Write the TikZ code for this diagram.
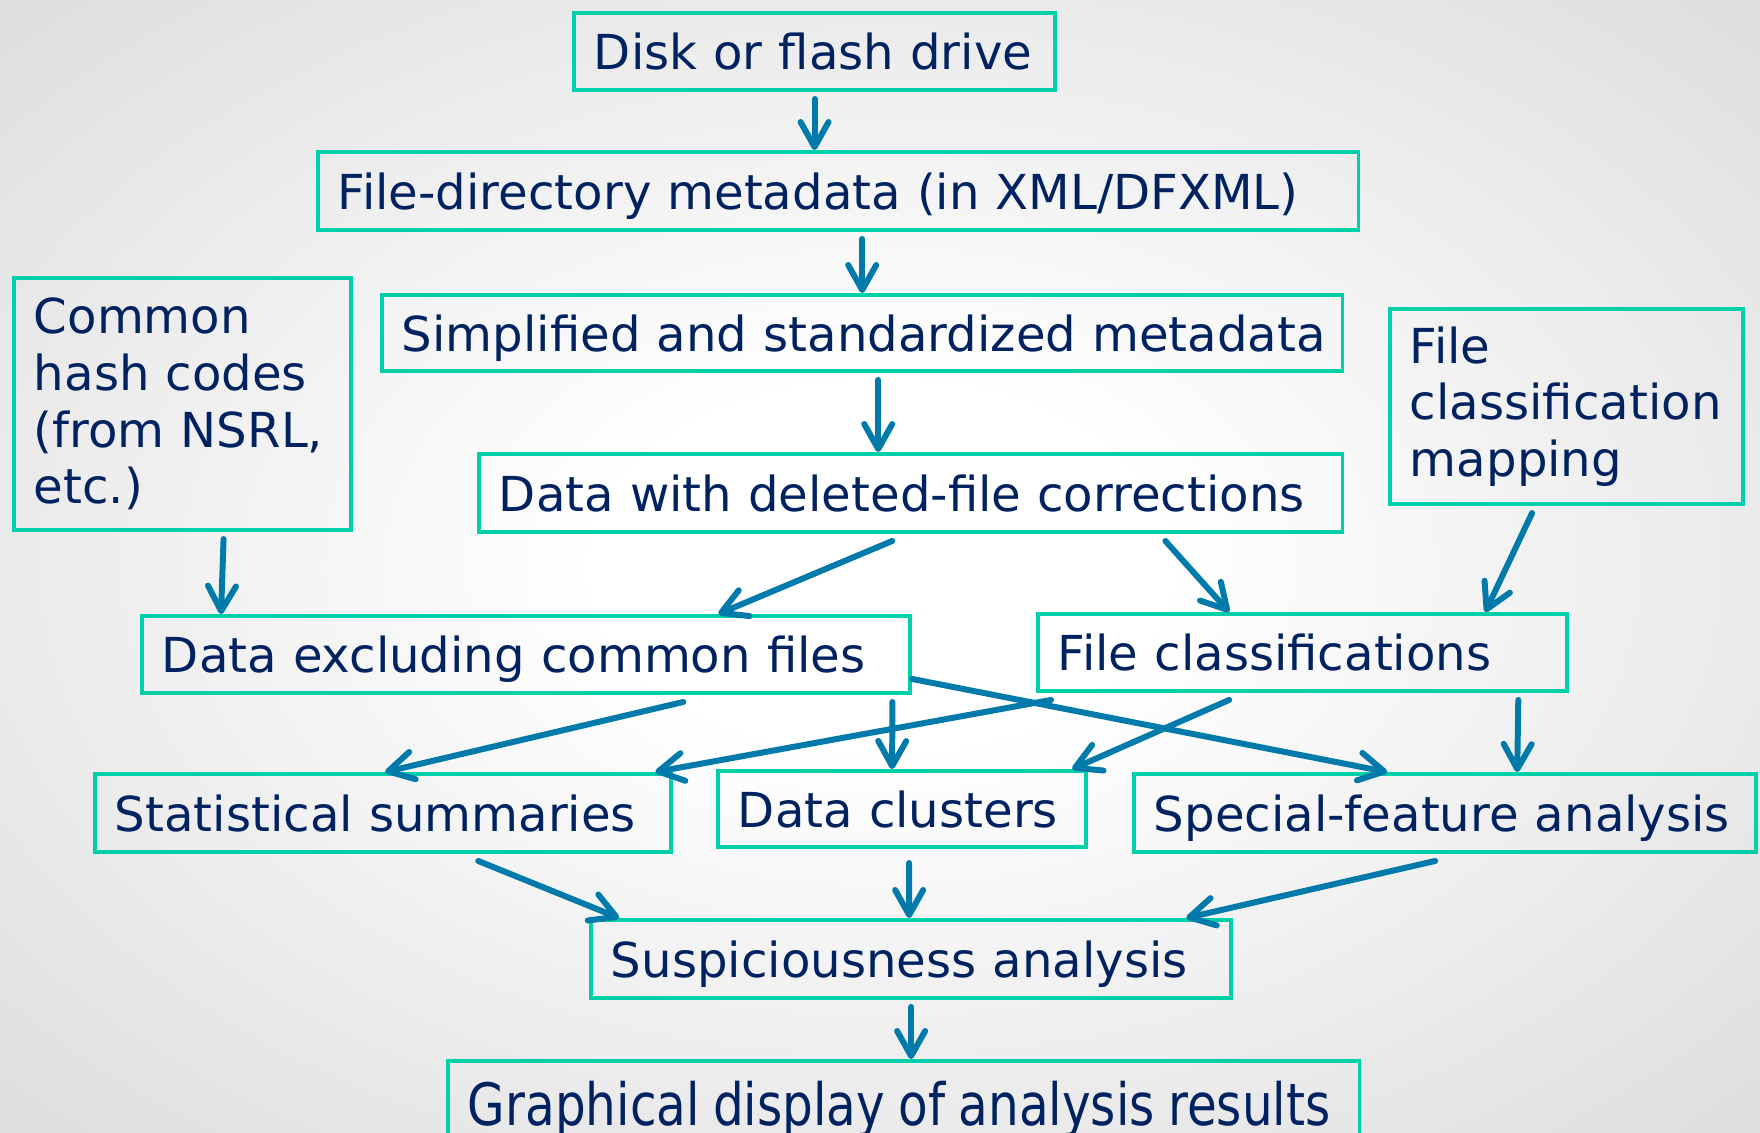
\documentclass[tikz,border=0pt]{standalone}
\usepackage{fontspec}
\setmainfont{DejaVu Sans}
\usepackage{xcolor}
\usepackage{tikz}
\usetikzlibrary{arrows.meta}
\definecolor{boxline}{RGB}{0,208,170}
\definecolor{flowblue}{RGB}{0,122,170}
\definecolor{navytext}{RGB}{0,34,96}
\definecolor{bggray}{RGB}{178,178,178}
\pgfdeclareradialshading{bgglow}{\pgfpoint{0bp}{0bp}}{color(0bp)=(white); color(8bp)=(white); color(71bp)=(bggray)}

\begin{document}
\begin{tikzpicture}[x=0.01cm,y=-0.01cm,
    box/.style={draw=boxline, line width=1.1pt, anchor=north west, align=left,
      inner xsep=0.2cm, inner ysep=0pt, text=navytext,
      font=\fontsize{13.7}{16.1}\selectfont},
    single/.style={box, text depth=0pt},
    arr/.style={draw=flowblue, line width=1.7pt, line cap=round,
      -{Straight Barb[length=0.25cm,width=0.28cm,line width=1.7pt,round]}}]
						\useasboundingbox (0,0) rectangle (1760,1132);
						\clip (0,0) rectangle (1760,1132);
						\shade[shading=bgglow] (0,0) rectangle (1760,1132);
						
						\node[single, text width=4.41cm, minimum height=0.77cm] (disk) at (572,11) {Disk or flash drive};
						\node[single, text width=10.00cm, minimum height=0.78cm] (fdir) at (316,150) {\mbox{File-directory metadata (in XML/DFXML)}};
						\node[single, text width=9.20cm, minimum height=0.76cm] (simp) at (380,293) {\mbox{Simplified and standardized metadata}};
						\node[box, text width=2.97cm, minimum height=2.52cm] (hash) at (12,276) {Common\\hash codes\\(from NSRL,\\etc.)};
						\node[box, text width=3.13cm, minimum height=1.95cm] (map) at (1388,307) {File\\classification\\mapping};
						\node[single, text width=8.23cm, minimum height=0.78cm] (dele) at (477,452) {Data with deleted-file corrections};
						\node[single, text width=7.28cm, minimum height=0.77cm] (excl) at (140,614) {Data excluding common files};
						\node[single, text width=4.89cm, minimum height=0.77cm] (clas) at (1036,612) {File classifications};
						\node[single, text width=5.36cm, minimum height=0.78cm] (stat) at (93,772) {Statistical summaries};
						\node[single, text width=3.28cm, minimum height=0.76cm] (clus) at (716,769) {Data clusters};
						\node[single, text width=5.82cm, minimum height=0.78cm] (spec) at (1132,772) {Special-feature analysis};
						\node[single, text width=6.00cm, minimum height=0.78cm] (susp) at (589,918) {Suspiciousness analysis};
						\node[single, text width=8.71cm, minimum height=0.84cm] (graph) at (446,1059) {\fontsize{16.6}{19}\selectfont\scalebox{0.83}[1]{Graphical display of analysis results}};
						
						\draw[arr] ([yshift=-2pt]disk.south) -- (disk.south |- fdir.north);
						\draw[arr] ([yshift=-2pt]simp.north |- fdir.south) -- (simp.north);
						\draw[arr] ([xshift=4.01cm,yshift=-2pt]dele.north west |- simp.south) -- ([xshift=4.01cm]dele.north west);
						\draw[arr] ([xshift=0.41cm,yshift=-2pt]hash.south) -- ([xshift=0.81cm]excl.north west);
						\draw[arr] ([xshift=4.15cm,yshift=-2pt]dele.south west) -- ([xshift=5.78cm]excl.north west);
						\draw[arr] ([xshift=6.88cm,yshift=-2pt]dele.south west) -- ([xshift=1.93cm]clas.north west);
						\draw[arr] ([xshift=1.44cm,yshift=-2pt]map.south west) -- ([xshift=4.49cm]clas.north west);
						\draw[arr] ([xshift=5.43cm,yshift=-2pt]excl.south west) -- ([xshift=2.92cm]stat.north west);
						\draw[arr] ([xshift=7.52cm,yshift=-2pt]excl.south west) -- ([xshift=1.76cm]clus.north west);
						\draw[arr] ([yshift=-0.245cm]excl.east) -- ([xshift=2.55cm]spec.north west);
						\draw[arr] ([xshift=0.15cm,yshift=-2pt]clas.south west) -- ([xshift=5.62cm]stat.north west);
						\draw[arr] ([xshift=1.93cm,yshift=-2pt]clas.south west) -- ([xshift=3.56cm]clus.north west);
						\draw[arr] ([xshift=4.82cm,yshift=-2pt]clas.south west) -- ([xshift=3.85cm]spec.north west);
						\draw[arr] ([xshift=3.85cm,yshift=-2pt]stat.south west) -- ([xshift=0.30cm]susp.north west);
						\draw[arr] ([xshift=1.93cm,yshift=-4pt]clus.south west) -- ([xshift=3.20cm]susp.north west);
						\draw[arr] ([xshift=3.03cm,yshift=-2pt]spec.south west) -- ([xshift=5.97cm]susp.north west);
						\draw[arr] ([yshift=-2pt]susp.south) -- (susp.south |- graph.north);
\end{tikzpicture}
\end{document}
